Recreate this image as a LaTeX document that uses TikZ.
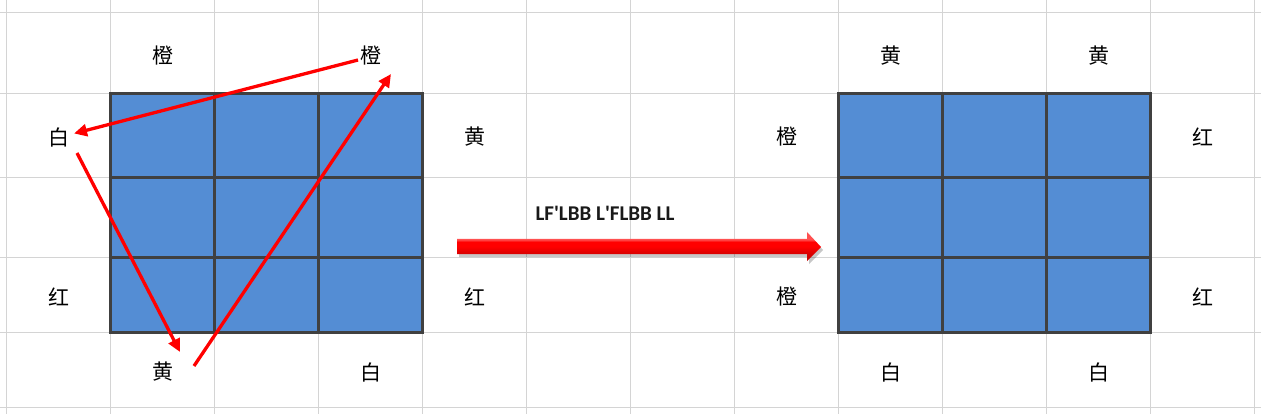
\documentclass[tikz,border=0pt]{standalone}
\usepackage{fontspec}
\setmainfont{Carlito}
\newfontfamily\cjk{Noto Sans CJK SC}
\usetikzlibrary{arrows.meta,calc}
\definecolor{gridgray}{HTML}{D4D4D4}
\definecolor{cellblue}{HTML}{548DD4}
\definecolor{cellborder}{HTML}{404040}
\definecolor{darkred}{HTML}{A00000}
\definecolor{lightred}{HTML}{FF5050}
\pgfdeclareverticalshading{arrowshade}{100bp}{
  color(0bp)=(darkred); color(38bp)=(red!85!black); color(50bp)=(red);
  color(58bp)=(red); color(62bp)=(lightred); color(100bp)=(lightred)}
\begin{document}
\begin{tikzpicture}[x=1pt,y=-1pt,
  lbl/.style={font=\cjk\fontsize{21}{21}\selectfont, inner sep=0pt, minimum size=28pt},
  redarrow/.style={draw=red, line width=3.3pt, -{Triangle[length=13pt,width=12pt]}},
  gridline/.style={gridgray, line width=1pt},
  cellline/.style={cellborder, line width=3pt},
  caption/.style={font=\bfseries\fontsize{21}{21}\selectfont, text=black!90}
 ]
\useasboundingbox (0,0) rectangle (1261,414);
\fill[white] (0,0) rectangle (1261,414);
% spreadsheet grid
\foreach \x in {6.5,110.5,214.5,318.5,422.5,526.5,630.5,734.5,838.5,942.5,1046.5,1150.5,1254.5}
  \draw[gridline] (\x,0) -- (\x,414);
\foreach \y in {12.5,93.5,177.5,257.5,332.5,407.5}
  \draw[gridline] (0,\y) -- (1261,\y);
% blue 3x3 blocks
\foreach \ox in {0,728} {
  \fill[cellblue] (110.5+\ox,93.5) rectangle (422.5+\ox,332.5);
  \draw[cellline] (214.5+\ox,93.5) -- (214.5+\ox,332.5);
  \draw[cellline] (318.5+\ox,93.5) -- (318.5+\ox,332.5);
  \draw[cellline] (110.5+\ox,177.5) -- (422.5+\ox,177.5);
  \draw[cellline] (110.5+\ox,257.5) -- (422.5+\ox,257.5);
  \draw[cellline] (110.5+\ox,93.5) rectangle (422.5+\ox,332.5);
}
% left labels
\node[lbl] (o1) at (163,55.5) {橙};
\node[lbl] (o2) at (371,55.5) {橙};
\node[lbl] (w1) at (59,137) {白};
\node[lbl] (y2) at (475,137) {黄};
\node[lbl] (r1) at (59,297) {红};
\node[lbl] (r2) at (475,297) {红};
\node[lbl] (y1) at (163,372) {黄};
\node[lbl] (w2) at (371,372) {白};
% right labels
\node[lbl] (ry1) at (891,55.5) {黄};
\node[lbl] (ry2) at (1099,55.5) {黄};
\node[lbl] (ro1) at (787,137) {橙};
\node[lbl] (ro2) at (787,297) {橙};
\node[lbl] (rr1) at (1203,137) {红};
\node[lbl] (rr2) at (1203,297) {红};
\node[lbl] (rw1) at (891,372) {白};
\node[lbl] (rw2) at (1099,372) {白};
% red arrows
\draw[redarrow] ([shift={(-13,4.5)}]o2.center) -- ([shift={(15,-3.5)}]w1.center);
\draw[redarrow] ([shift={(18,16)}]w1.center) -- ([shift={(17,-20)}]y1.center);
\draw[redarrow] ([shift={(31,-6)}]y1.center) -- ([shift={(20,18.5)}]o2.center);
% big arrow
\fill[black, opacity=0.22] (459,242) -- (809,242) -- (809,235) -- (823,250) -- (809,264) -- (809,257) -- (459,257) -- cycle;
\shade[shading=arrowshade]
  (457,239) -- (807,239) -- (807,232) -- (821,247) -- (807,261) -- (807,254) -- (457,254) -- cycle;
\node[caption] (cap) at (605,213) {LF\textquotesingle LBB L\textquotesingle FLBB LL};
\end{tikzpicture}
\end{document}
